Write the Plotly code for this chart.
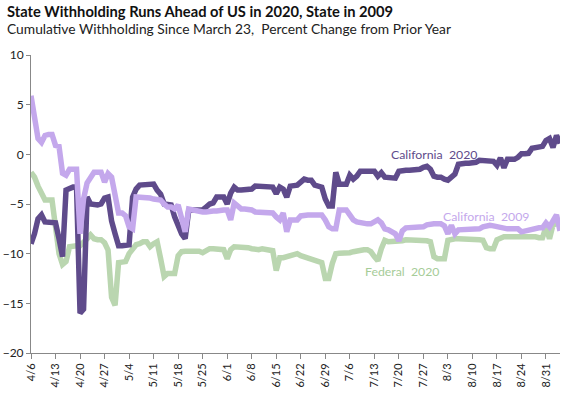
import pandas as pd
import plotly.graph_objects as go

# Daily dates, 4/6/2020 through 9/4/2020
start_date = "2020-04-06"
n_days = 152
dates = pd.date_range(start_date, periods=n_days, freq="D")

# Weekly tick labels
tick_labels = ["4/6", "4/13", "4/20", "4/27", "5/4", "5/11", "5/18", "5/25",
               "6/1", "6/8", "6/15", "6/22", "6/29", "7/6", "7/13", "7/20",
               "7/27", "8/3", "8/10", "8/17", "8/24", "8/31"]
tick_dates = ["2020-04-06", "2020-04-13", "2020-04-20", "2020-04-27", "2020-05-04",
              "2020-05-11", "2020-05-18", "2020-05-25", "2020-06-01", "2020-06-08",
              "2020-06-15", "2020-06-22", "2020-06-29", "2020-07-06", "2020-07-13",
              "2020-07-20", "2020-07-27", "2020-08-03", "2020-08-10", "2020-08-17",
              "2020-08-24", "2020-08-31"]

california_2020 = [
    -9.0, -8.0, -6.5, -6.1, -6.8, -6.8, -6.8,
    -6.9, -8.5, -10.3, -3.6, -3.4, -3.3, -3.3,
    -16.0, -15.6, -4.3, -5.0, -5.1, -5.1, -5.0,
    -4.4, -4.3, -6.7, -8.0, -9.2, -9.2, -9.2,
    -9.1, -4.3, -3.5, -3.1, -3.1, -3.1, -3.0,
    -3.0, -3.6, -4.0, -5.0, -5.0, -5.1, -6.3,
    -7.3, -8.0, -8.5, -5.7, -5.6, -5.6, -5.6,
    -5.6, -5.3, -5.0, -4.9, -4.3, -4.3, -4.3,
    -5.0, -3.9, -3.3, -3.6, -3.6, -3.6, -3.5,
    -3.5, -3.2, -3.2, -3.2, -3.2, -3.2, -3.3,
    -3.95, -3.3, -3.5, -4.3, -3.2, -3.1, -3.1,
    -2.8, -2.5, -2.6, -2.6, -3.1, -3.2, -3.3,
    -4.5, -5.2, -5.2, -1.8, -3.0, -3.0, -3.0,
    -2.1, -2.5, -2.2, -1.7, -1.7, -1.7, -1.7,
    -1.7, -2.2, -1.85, -2.3, -2.3, -2.3, -2.4,
    -1.7, -1.6, -1.6, -1.6, -1.6, -1.5, -1.5,
    -1.3, -1.2, -1.5, -2.2, -2.3, -2.3, -2.5,
    -2.6, -2.3, -2.0, -1.0, -0.9, -0.9, -0.9,
    -0.9, -0.8, -0.6, -0.6, -0.6, -0.6, -0.7,
    -1.1, -0.35, -1.35, -0.5, -0.5, -0.5, -0.3,
    0.05, 0.05, 0.1, 0.6, 0.7, 0.7, 0.8,
    1.4, 1.6, 0.7, 1.9, 1.1,
]

california_2009 = [
    5.9, 3.5, 1.6, 1.2, 1.9, 2.0, 2.0,
    0.9, 0.8, -1.9, -2.1, -1.5, -1.45, -1.5,
    -8.0, -4.5, -2.9, -2.3, -1.8, -1.8, -1.8,
    -2.8, -1.95, -2.3, -4.5, -5.9, -5.9, -6.2,
    -7.3, -7.5, -4.3, -4.3, -4.35, -4.4, -4.4,
    -4.5, -4.6, -4.6, -5.0, -5.3, -5.3, -5.5,
    -5.1, -6.5, -7.8, -5.5, -5.6, -5.6, -5.7,
    -5.8, -5.8, -5.7, -5.7, -5.7, -5.6, -5.6,
    -5.6, -6.6, -4.9, -5.3, -5.5, -5.5, -5.5,
    -5.6, -5.8, -5.8, -5.8, -5.8, -5.8, -5.9,
    -6.3, -6.6, -5.9, -7.8, -6.6, -6.6, -6.6,
    -6.2, -6.1, -6.1, -6.1, -6.1, -6.1, -6.1,
    -6.6, -7.3, -7.5, -7.5, -5.6, -5.6, -5.6,
    -6.1, -6.6, -6.8, -6.9, -7.0, -7.0, -7.0,
    -6.8, -6.6, -6.9, -7.5, -7.6, -7.8, -8.0,
    -8.7, -7.7, -7.4, -7.4, -7.4, -7.4, -7.4,
    -7.3, -7.1, -7.0, -7.0, -7.0, -7.0, -7.2,
    -8.0, -7.15, -8.0, -7.6, -7.6, -7.6, -7.6,
    -7.6, -7.6, -7.5, -7.3, -7.2, -7.15, -7.2,
    -7.3, -7.35, -7.4, -7.5, -7.5, -7.5, -7.5,
    -7.8, -7.7, -7.6, -7.5, -7.4, -7.4, -7.4,
    -6.9, -7.3, -6.8, -6.1, -7.7,
]

federal_2020 = [
    -1.8, -2.3, -3.2, -3.9, -4.6, -4.6, -4.6,
    -7.3, -10.0, -11.1, -10.8, -9.3, -9.2, -9.2,
    -9.2, -8.9, -8.5, -8.1, -8.5, -8.6, -8.6,
    -8.9, -9.65, -14.4, -15.2, -10.9, -10.8, -10.8,
    -10.0, -9.5, -9.1, -9.0, -8.8, -8.8, -9.3,
    -9.0, -8.8, -10.5, -12.3, -12.0, -12.0, -12.0,
    -10.2, -9.8, -9.75, -9.75, -9.75, -9.75, -9.75,
    -9.9, -9.7, -9.5, -9.5, -9.5, -9.5, -9.6,
    -10.5, -9.6, -9.3, -9.3, -9.3, -9.3, -9.4,
    -9.5, -9.6, -9.6, -9.5, -9.6, -9.6, -9.7,
    -11.7, -10.4, -10.4, -10.3, -10.1, -10.0, -10.0,
    -10.2, -10.3, -10.4, -10.5, -10.7, -10.8, -10.9,
    -12.5, -12.5, -11.0, -10.0, -9.95, -9.95, -9.95,
    -9.9, -9.8, -9.7, -9.6, -9.6, -9.6, -9.8,
    -10.3, -10.7, -9.5, -8.65, -8.8, -8.8, -8.8,
    -8.8, -8.7, -8.6, -8.6, -8.6, -8.6, -8.6,
    -8.6, -8.7, -8.8, -10.3, -10.5, -10.5, -10.5,
    -8.65, -8.55, -8.5, -8.5, -8.5, -8.5, -8.5,
    -8.5, -8.55, -8.6, -8.65, -9.4, -9.5, -9.5,
    -8.6, -8.4, -8.3, -8.3, -8.3, -8.3, -8.3,
    -8.3, -8.3, -8.25, -8.25, -8.3, -8.4, -8.4,
    -7.3, -8.5, -7.1, -7.0, -6.65,
]

y_ticks = [-20, -15, -10, -5, 0, 5, 10]

C_CA20 = "#5F4B8B"
C_CA09 = "#C4A8EC"
C_FED = "#BAD6B0"
FONT = "Lato"

fig = go.Figure()
fig.add_trace(go.Scatter(x=dates, y=federal_2020, mode="lines", name="Federal 2020",
                         line=dict(color=C_FED, width=5.5)))
fig.add_trace(go.Scatter(x=dates, y=california_2020, mode="lines", name="California 2020",
                         line=dict(color=C_CA20, width=5.5)))
fig.add_trace(go.Scatter(x=dates, y=california_2009, mode="lines", name="California 2009",
                         line=dict(color=C_CA09, width=5.5)))

# paper coords: plot area spans pixels x 31..560, y 55..353
annotations = [
    dict(text="<b>State Withholding Runs Ahead of US in 2020, State in 2009</b>",
         xref="paper", yref="paper", x=-0.049, y=1.148, xanchor="left", yanchor="middle",
         showarrow=False, font=dict(family=FONT, size=14.7, color="#111111")),
    dict(text="Cumulative Withholding Since March 23,  Percent Change from Prior Year",
         xref="paper", yref="paper", x=-0.049, y=1.09, xanchor="left", yanchor="middle",
         showarrow=False, font=dict(family=FONT, size=13.8, color="#222222")),
    dict(text="California  2020", x="2020-07-30", y=0.0, xref="x", yref="y",
         showarrow=False, font=dict(family=FONT, size=12.3, color=C_CA20)),
    dict(text="California  2009", x="2020-08-14", y=-6.3, xref="x", yref="y",
         showarrow=False, font=dict(family=FONT, size=12.3, color=C_CA09)),
    dict(text="Federal  2020", x="2020-07-21", y=-11.8, xref="x", yref="y",
         showarrow=False, font=dict(family=FONT, size=12.3, color="#A6CC98")),
]

fig.update_layout(
    width=572, height=393,
    margin=dict(l=31, r=12, t=55, b=40, autoexpand=False),
    paper_bgcolor="white", plot_bgcolor="white",
    showlegend=False,
    font=dict(family=FONT, size=12, color="#222222"),
    annotations=annotations,
    xaxis=dict(
        range=["2020-04-06", "2020-09-04"],
        tickvals=tick_dates, ticktext=tick_labels,
        tickangle=-90, ticks="outside", ticklen=5, tickcolor="#888888",
        showline=True, linecolor="#888888", linewidth=1,
        showgrid=False, zeroline=False, automargin=False,
        tickfont=dict(family=FONT, size=11, color="#222222"),
    ),
    yaxis=dict(
        range=[-20, 10], tickvals=y_ticks,
        ticks="outside", ticklen=4, tickcolor="#888888",
        showline=True, linecolor="#888888", linewidth=1,
        showgrid=False, zeroline=False, automargin=False,
        tickfont=dict(family=FONT, size=12, color="#222222"),
    ),
)

fig.write_html(
    "out.html",
    config={"displayModeBar": False},
    post_script="document.body.style.margin='0';document.body.style.overflow='hidden';",
)
